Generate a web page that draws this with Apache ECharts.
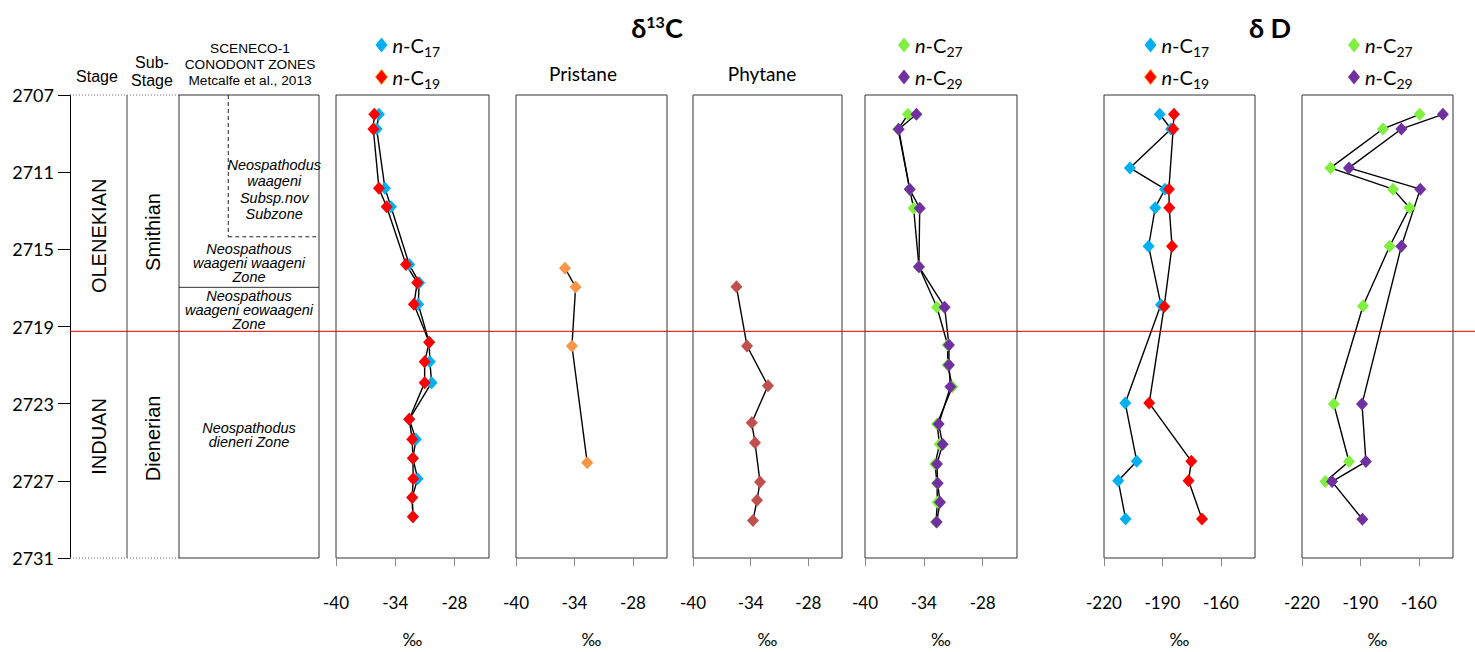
<!DOCTYPE html>
<html><head><meta charset="utf-8">
<script src="https://cdn.jsdelivr.net/npm/echarts@6/dist/echarts.min.js"></script>
<style>html,body{margin:0;padding:0;background:#fff}#c{width:1475px;height:652px}</style>
</head><body><div id="c"></div>
<script>
// ---------- data ----------
const depthTicks = [2707, 2711, 2715, 2719, 2723, 2727, 2731];
const c13Ticks = [-40, -34, -28];
const dDTicks = [-220, -190, -160];

// delta13C n-C17 / n-C19
const c13Depth = [2708.0, 2708.76, 2711.84, 2712.79, 2715.79, 2716.73, 2717.85, 2719.82, 2720.83, 2721.91, 2723.81, 2724.85, 2725.83, 2726.89, 2727.86, 2728.86];
const c17_d13C = [-35.65, -35.88, -35.04, -34.43, -32.58, -31.57, -31.67, -30.56, -30.49, -30.31, -32.58, -31.90, -32.21, -31.73, -32.28, -32.21];
const c19_d13C = [-36.12, -36.22, -35.65, -34.87, -32.91, -31.77, -32.11, -30.56, -31.02, -31.02, -32.58, -32.28, -32.21, -32.18, -32.28, -32.21];

// Pristane / Phytane delta13C
const prDepth = [2715.98, 2716.95, 2720.01, 2726.06];
const pristane = [-34.97, -33.88, -34.26, -32.69];
const phDepth = [2716.94, 2720.01, 2722.07, 2723.99, 2725.02, 2727.06, 2728.01, 2729.05];
const phytane = [-35.48, -34.38, -32.20, -33.89, -33.55, -33.03, -33.34, -33.76];

// delta13C n-C27 / n-C29
const c27Depth = [2708.0, 2708.78, 2711.89, 2712.87, 2715.9, 2718.0, 2719.96, 2721.0, 2722.12, 2724.06, 2725.1, 2726.13, 2727.13, 2728.11, 2729.14];
const c27_d13C = [-35.62, -36.62, -35.44, -35.04, -34.50, -32.66, -31.57, -31.57, -31.09, -32.66, -32.39, -32.86, -32.66, -32.62, -32.76];
const c29_d13C = [-34.76, -36.56, -35.44, -34.42, -34.50, -31.88, -31.44, -31.44, -31.29, -32.49, -32.08, -32.66, -32.59, -32.35, -32.69];

// deltaD
const c17dDDepth = [2708.0, 2708.76, 2710.78, 2711.88, 2712.84, 2714.84, 2717.87, 2722.97, 2725.98, 2727.0, 2728.98];
const c17_dD = [-191.4, -185.6, -206.7, -188.7, -193.7, -197.1, -190.8, -209.1, -203.2, -212.7, -208.9];
const c19dDDepth = [2708.0, 2708.76, 2711.88, 2712.84, 2714.84, 2717.96, 2722.97, 2725.98, 2727.0, 2728.98];
const c19_dD = [-184.1, -184.5, -186.7, -186.5, -185.1, -189.1, -196.8, -175.2, -176.6, -169.7];
const c27dDDepth = [2708.0, 2708.76, 2710.78, 2711.88, 2712.84, 2714.84, 2717.94, 2723.02, 2726.0, 2727.04];
const c27_dD = [-159.6, -178.5, -205.4, -173.3, -164.8, -175.0, -188.7, -203.7, -195.9, -208.0];
const c29dDDepth = [2708.0, 2708.76, 2710.78, 2711.88, 2714.84, 2723.02, 2726.0, 2727.04, 2728.99];
const c29_dD = [-147.7, -169.0, -195.9, -159.3, -169.0, -189.2, -187.2, -204.6, -189.0];

// stratigraphy
const depthMin = 2707, depthMax = 2731;
const boundaryDepth = 2719.25;
const stageNames = ['OLENEKIAN', 'INDUAN'];
const stageLabelDepth = [2714.3, 2724.7];
const substageNames = ['Smithian', 'Dienerian'];
const substageLabelDepth = [2714.1, 2724.8];
const zoneNames = ['Neospathodus\nwaageni\nSubsp.nov\nSubzone', 'Neospathous\nwaageni waageni\nZone', 'Neospathous\nwaageni eowaageni\nZone', 'Neospathodus\ndieneri Zone'];
const zoneLabelDepth = [2711.9, 2715.7, 2718.15, 2724.6];
const subzoneBase = 2714.35;
const zoneBoundary = 2716.97;

// ---------- chart ----------
const chart = echarts.init(document.getElementById('c'), null, {renderer: 'svg'});
const FONT = 'Lato, "Open Sans", sans-serif';
const ARIAL = '"Liberation Sans", Arial, sans-serif';
const C = {c17: '#00b0f0', c19: '#ff0000', pr: '#f79646', ph: '#c0504d', c27: '#80f040', c29: '#7030a0'};

const TOP = 95, H = 463;
const gridDefs = [
  [70, 57], [127, 52], [179, 140],
  [336, 153], [516, 151], [693, 149], [865, 152], [1104, 151], [1302, 151]
];
const grids = gridDefs.map((g, i) => ({
  left: g[0], top: TOP, width: g[1], height: H,
  show: i >= 3, borderColor: '#333', borderWidth: 1, backgroundColor: 'transparent',
  outerBoundsMode: 'none', containLabel: false
}));

function dataX(gi, min, max, ticks) {
  return {
    type: 'value', gridIndex: gi, min: min, max: max, position: 'bottom',
    axisLine: {show: false}, splitLine: {show: false},
    axisTick: {show: true, customValues: ticks, length: 8, lineStyle: {color: '#888'}},
    axisLabel: {customValues: ticks, margin: 36, fontSize: 17, color: '#000', fontFamily: FONT},
    name: '‰', nameLocation: 'middle', nameGap: 73,
    nameTextStyle: {fontSize: 17, color: '#000', fontFamily: FONT}
  };
}
const xAxes = [0, 1, 2].map(gi => ({type: 'value', gridIndex: gi, min: 0, max: 1, show: false}))
  .concat([
    dataX(3, -40, -24.5, c13Ticks), dataX(4, -40, -24.5, c13Ticks), dataX(5, -40, -24.5, c13Ticks),
    dataX(6, -40, -24.5, c13Ticks), dataX(7, -220, -142.5, dDTicks), dataX(8, -220, -142.5, dDTicks)
  ]);
const yAxes = gridDefs.map((g, gi) => gi === 0 ? {
  type: 'value', gridIndex: 0, inverse: true, min: depthMin, max: depthMax,
  axisLine: {show: true, lineStyle: {color: '#000', width: 1}},
  axisTick: {show: true, customValues: depthTicks, length: 12, lineStyle: {color: '#000'}},
  axisLabel: {customValues: depthTicks, margin: 16, fontSize: 18, color: '#000', fontFamily: FONT,
    formatter: v => String(v)},
  splitLine: {show: false}
} : {type: 'value', gridIndex: gi, inverse: true, min: depthMin, max: depthMax, show: false});

const pairs = (xs, ds) => xs.map((v, i) => [v, ds[i]]);
function line(name, gi, xs, ds, color) {
  return {
    type: 'line', name: name, xAxisIndex: gi, yAxisIndex: gi, data: pairs(xs, ds),
    symbol: 'diamond', symbolSize: [12, 13], showSymbol: true,
    itemStyle: {color: color}, lineStyle: {color: '#000', width: 1.4},
    emphasis: {disabled: true}, animation: false, z: 3
  };
}

const dotted = {stroke: '#666', lineWidth: 1, lineDash: [1, 2]};

function stageRender(params, api) {
  const i = api.value(2);
  const p = api.coord([0.5, api.value(1)]);
  const ch = [{type: 'text', x: p[0], y: p[1], rotation: Math.PI / 2,
    style: {text: stageNames[i], fill: '#000', fontSize: 20, fontFamily: ARIAL, align: 'center', verticalAlign: 'middle'}}];
  if (i === 0) {
    const tl = api.coord([0, depthMin]), br = api.coord([1, depthMax]);
    ch.push({type: 'line', shape: {x1: tl[0], y1: tl[1], x2: br[0], y2: tl[1]}, style: dotted});
    ch.push({type: 'line', shape: {x1: tl[0], y1: br[1], x2: br[0], y2: br[1]}, style: dotted});
    ch.push({type: 'line', shape: {x1: br[0], y1: tl[1], x2: br[0], y2: br[1]}, style: {stroke: '#808080', lineWidth: 1.5}});
    const yb = api.coord([0, boundaryDepth])[1];
    ch.push({type: 'line', shape: {x1: tl[0], y1: yb, x2: api.getWidth(), y2: yb}, style: {stroke: '#e00000', lineWidth: 1}});
  }
  return {type: 'group', children: ch};
}
function substageRender(params, api) {
  const i = api.value(2);
  const p = api.coord([0.5, api.value(1)]);
  const ch = [{type: 'text', x: p[0], y: p[1], rotation: Math.PI / 2,
    style: {text: substageNames[i], fill: '#000', fontSize: 20, fontFamily: ARIAL, align: 'center', verticalAlign: 'middle'}}];
  if (i === 0) {
    const tl = api.coord([0, depthMin]), br = api.coord([1, depthMax]);
    ch.push({type: 'line', shape: {x1: tl[0], y1: tl[1], x2: br[0], y2: tl[1]}, style: dotted});
    ch.push({type: 'line', shape: {x1: tl[0], y1: br[1], x2: br[0], y2: br[1]}, style: dotted});
  }
  return {type: 'group', children: ch};
}
function zoneRender(params, api) {
  const i = api.value(2);
  const p = api.coord([i === 0 ? 0.68 : 0.5, api.value(1)]);
  const ch = [{type: 'text', x: p[0], y: p[1],
    style: {text: zoneNames[i], fill: '#000', fontSize: 14.5, fontStyle: 'italic', fontFamily: ARIAL,
      align: 'center', verticalAlign: 'middle', lineHeight: i === 0 ? 16.5 : 14}}];
  if (i === 0) {
    const tl = api.coord([0, depthMin]), br = api.coord([1, depthMax]);
    ch.push({type: 'rect', shape: {x: tl[0], y: tl[1], width: br[0] - tl[0], height: br[1] - tl[1]},
      style: {fill: 'none', stroke: '#333', lineWidth: 1}});
    const yz = api.coord([0, zoneBoundary])[1];
    ch.push({type: 'line', shape: {x1: tl[0], y1: yz, x2: br[0], y2: yz}, style: {stroke: '#333', lineWidth: 1}});
    const sx = api.coord([0.352, depthMin])[0];
    const sy = api.coord([0, subzoneBase])[1];
    const ex = api.coord([0.98, depthMin])[0];
    const dash = {stroke: '#222', lineWidth: 1, lineDash: [4, 3]};
    ch.push({type: 'line', shape: {x1: sx, y1: tl[1], x2: sx, y2: sy}, style: dash});
    ch.push({type: 'line', shape: {x1: sx, y1: sy, x2: ex, y2: sy}, style: dash});
  }
  return {type: 'group', children: ch};
}

const series = [
  {type: 'custom', xAxisIndex: 0, yAxisIndex: 0, renderItem: stageRender, clip: false, z: 10,
    data: stageLabelDepth.map((d, i) => [0.5, d, i]), silent: true, animation: false},
  {type: 'custom', xAxisIndex: 1, yAxisIndex: 1, renderItem: substageRender, clip: false, z: 5,
    data: substageLabelDepth.map((d, i) => [0.5, d, i]), silent: true, animation: false},
  {type: 'custom', xAxisIndex: 2, yAxisIndex: 2, renderItem: zoneRender, clip: false, z: 5,
    data: zoneLabelDepth.map((d, i) => [0.5, d, i]), silent: true, animation: false},
  line('n-C17', 3, c17_d13C, c13Depth, C.c17),
  line('n-C19', 3, c19_d13C, c13Depth, C.c19),
  line('Pristane', 4, pristane, prDepth, C.pr),
  line('Phytane', 5, phytane, phDepth, C.ph),
  line('n-C27', 6, c27_d13C, c27Depth, C.c27),
  line('n-C29', 6, c29_d13C, c27Depth, C.c29),
  line('n-C17', 7, c17_dD, c17dDDepth, C.c17),
  line('n-C19', 7, c19_dD, c19dDDepth, C.c19),
  line('n-C27', 8, c27_dD, c27dDDepth, C.c27),
  line('n-C29', 8, c29_dD, c29dDDepth, C.c29)
];

const legRich = {
  i: {fontStyle: 'italic', fontSize: 20, fontFamily: FONT, color: '#000'},
  r: {fontSize: 20, fontFamily: FONT, color: '#000'},
  s: {fontSize: 14, fontFamily: FONT, color: '#000', padding: [12, 0, 0, 0]}
};
function legend(left, names) {
  return {
    left: left, top: 30, orient: 'vertical', itemGap: 9, itemWidth: 12, itemHeight: 15,
    icon: 'diamond', selectedMode: false,
    data: names.map(n => n === 'n-C19' ? {name: n, itemStyle: {borderColor: '#ff9900', borderWidth: 1}} : n),
    formatter: n => '{i|n}{r|-C}{s|' + n.slice(3) + '}',
    textStyle: {rich: legRich, color: '#000'}
  };
}

function txt(x, y, s, size, extra) {
  return {type: 'text', x: x, y: y, silent: true,
    style: Object.assign({text: s, fill: '#000', fontSize: size, fontFamily: ARIAL, align: 'center', verticalAlign: 'middle'}, extra || {})};
}
const graphics = [
  txt(97, 76, 'Stage', 16),
  txt(152, 62, 'Sub-', 16), txt(152, 80, 'Stage', 16),
  txt(250, 48, 'SCENECO-1', 13.7), txt(250, 64, 'CONODONT ZONES', 13.7), txt(250, 80, 'Metcalfe et al., 2013', 13.7),
  txt(583, 73, 'Pristane', 19, {fontFamily: FONT}),
  txt(762, 73, 'Phytane', 19, {fontFamily: FONT}),
  {type: 'text', x: 657, y: 27, silent: true, style: {
    text: '{b|δ}{s|13}{b|C}', align: 'center', verticalAlign: 'middle',
    rich: {b: {fontSize: 27, fontWeight: 'bold', fontFamily: FONT, color: '#000'},
      s: {fontSize: 16, fontWeight: 'bold', fontFamily: FONT, color: '#000', padding: [0, 0, 12, 0]}}}},
  {type: 'text', x: 1270, y: 27, silent: true, style: {
    text: 'δ D', align: 'center', verticalAlign: 'middle', fontSize: 27, fontWeight: 'bold', fontFamily: FONT, fill: '#000'}}
];

chart.setOption({
  animation: false,
  grid: grids,
  xAxis: xAxes,
  yAxis: yAxes,
  legend: [legend(370, ['n-C17', 'n-C19']), legend(893, ['n-C27', 'n-C29']),
           legend(1139, ['n-C17', 'n-C19']), legend(1343, ['n-C27', 'n-C29'])],
  graphic: graphics,
  series: series
});
</script></body></html>
